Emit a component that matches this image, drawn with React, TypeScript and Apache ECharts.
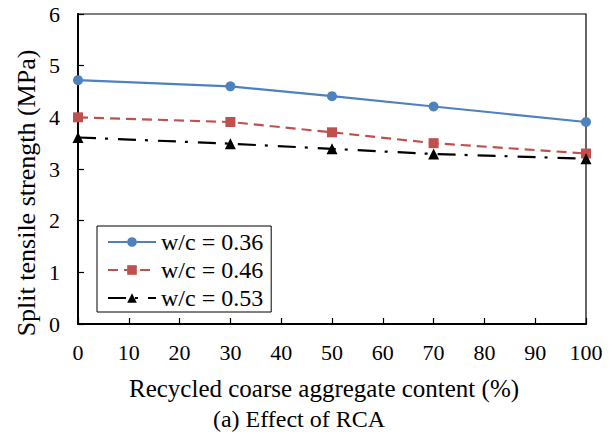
import React, { useEffect, useRef } from "react";
import * as echarts from "echarts";

const rcaContent = [0, 30, 50, 70, 100];
const wc036 = [4.72, 4.6, 4.41, 4.21, 3.91];
const wc046 = [4.0, 3.91, 3.71, 3.5, 3.3];
const wc053 = [3.61, 3.49, 3.39, 3.29, 3.2];
const seriesNames = ["w/c = 0.36", "w/c = 0.46", "w/c = 0.53"];
const xTitle = "Recycled coarse aggregate content (%)";
const yTitle = "Split tensile strength (MPa)";
const caption = "(a) Effect of RCA";

const FONT = "Liberation Serif";

export default function App() {
  const ref = useRef<HTMLDivElement>(null);
  useEffect(() => {
    if (!ref.current) return;
    const chart = echarts.init(ref.current, null, { renderer: "svg" });
    const pair = (ys: number[]) => rcaContent.map((x, i) => [x, ys[i]]);
    const txt = (text: string, x: number, y: number, size: number, rotation = 0) => ({
      type: "text",
      x,
      y,
      rotation,
      style: {
        text,
        fontFamily: FONT,
        fontSize: size,
        fill: "#000",
        textAlign: "center",
        textVerticalAlign: "middle",
      },
    });
    chart.setOption({
      animation: false,
      backgroundColor: "#ffffff",
      textStyle: { fontFamily: FONT },
      grid: {
        left: 78,
        right: 30,
        top: 14,
        bottom: 116,
        show: true,
        borderColor: "#000",
        borderWidth: 1.2,
      },
      legend: {
        left: 97,
        top: 226,
        orient: "vertical",
        itemWidth: 48,
        itemHeight: 12,
        itemGap: 4,
        padding: [4, 8, 2, 10],
        borderColor: "#000",
        borderWidth: 1,
        backgroundColor: "#fff",
        textStyle: { fontFamily: FONT, fontSize: 24, color: "#000" },
        data: seriesNames,
      },
      xAxis: {
        type: "value",
        min: 0,
        max: 100,
        interval: 10,
        axisLine: { show: true, lineStyle: { color: "#000", width: 2 } },
        axisTick: { show: true, inside: true, length: 6, lineStyle: { color: "#000", width: 1.2 } },
        axisLabel: { fontFamily: FONT, fontSize: 22, color: "#000", margin: 17 },
        splitLine: { show: false },
      },
      yAxis: {
        type: "value",
        min: 0,
        max: 6,
        interval: 1,
        axisLine: { show: true, lineStyle: { color: "#000", width: 2 } },
        axisTick: { show: true, inside: true, length: 6, lineStyle: { color: "#000", width: 1.2 } },
        axisLabel: { fontFamily: FONT, fontSize: 22, color: "#000", margin: 18 },
        splitLine: { show: false },
      },
      graphic: [
        txt(yTitle, 26, 193, 26, Math.PI / 2),
        txt(xTitle, 324, 388, 25),
        txt(caption, 299, 419, 24),
      ],
      series: [
        {
          name: seriesNames[0],
          type: "line",
          data: pair(wc036),
          symbol: "circle",
          symbolSize: 10,
          lineStyle: { color: "#4f81bd", width: 2.2 },
          itemStyle: { color: "#4f81bd" },
        },
        {
          name: seriesNames[1],
          type: "line",
          data: pair(wc046),
          symbol: "rect",
          symbolSize: 10,
          lineStyle: { color: "#c0504d", width: 2.2, type: [10, 6] },
          itemStyle: { color: "#c0504d" },
        },
        {
          name: seriesNames[2],
          type: "line",
          data: pair(wc053),
          symbol: "triangle",
          symbolSize: 11,
          lineStyle: { color: "#000", width: 2.2, type: [18, 9, 3, 10] },
          itemStyle: { color: "#000" },
        },
      ],
    });
    return () => chart.dispose();
  }, []);
  return (
    <div
      ref={ref}
      style={{ position: "fixed", left: 0, top: 0, width: 616, height: 440 }}
    />
  );
}
